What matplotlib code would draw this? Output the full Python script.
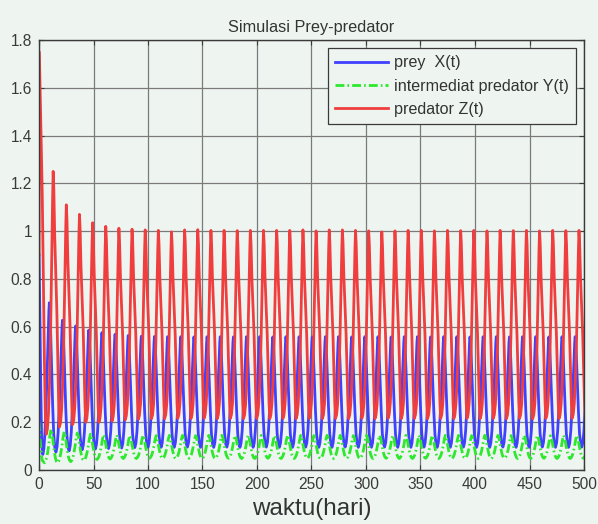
import numpy as np
from matplotlib import pyplot as plt
plt.rcParams['font.family'] = ['Liberation Sans', 'DejaVu Sans']

period = 12.06  # days between two successive peaks

# ---- prey X(t) ----
x_start_t = [0, 0.8, 1.6, 2.4]
x_start_v = [0.9, 0.65, 0.35, 0.13]
x_first_peak = 9.5
x_peaks = [0.70, 0.627, 0.603, 0.585, 0.575, 0.568, 0.563, 0.560, 0.559, 0.558,
           0.558, 0.557, 0.558, 0.558, 0.557, 0.558, 0.558, 0.557, 0.558, 0.558,
           0.557, 0.558, 0.558, 0.557, 0.558, 0.558, 0.557, 0.558, 0.558, 0.557,
           0.558, 0.558, 0.557, 0.558, 0.558, 0.557, 0.558, 0.558, 0.557, 0.558,
           0.558, 0.557]
x_troughs = [0.065, 0.075, 0.080, 0.085, 0.088, 0.090, 0.092, 0.094, 0.095, 0.095,
             0.095, 0.096, 0.095, 0.095, 0.096, 0.095, 0.095, 0.096, 0.095, 0.095,
             0.096, 0.095, 0.095, 0.096, 0.095, 0.095, 0.096, 0.095, 0.095, 0.096,
             0.095, 0.095, 0.096, 0.095, 0.095, 0.096, 0.095, 0.095, 0.096, 0.095,
             0.095, 0.096, 0.095]
x_off = [-6, -5, -4, -3, -2, -1, -0.4, 0, 0.5, 1.2, 2, 3, 4, 5]
x_norm = [0, 0.04, 0.15, 0.33, 0.55, 0.8, 0.95, 1.0, 0.95, 0.8, 0.58, 0.32, 0.12, 0.03]

# ---- intermediate predator Y(t) ----
y_start_t = [0, 1, 2, 3]
y_start_v = [0.2, 0.13, 0.07, 0.04]
y_first_peak = 11.0
y_peaks = [0.17, 0.16, 0.155, 0.150, 0.148, 0.146, 0.145, 0.145, 0.144, 0.145,
           0.145, 0.144, 0.145, 0.145, 0.144, 0.145, 0.145, 0.144, 0.145, 0.145,
           0.144, 0.145, 0.145, 0.144, 0.145, 0.145, 0.144, 0.145, 0.145, 0.144,
           0.145, 0.145, 0.144, 0.145, 0.145, 0.144, 0.145, 0.145, 0.144, 0.145,
           0.145, 0.144]
y_troughs = [0.030, 0.030, 0.035, 0.040, 0.044, 0.046, 0.048, 0.048, 0.049, 0.048,
             0.048, 0.049, 0.048, 0.048, 0.049, 0.048, 0.048, 0.049, 0.048, 0.048,
             0.049, 0.048, 0.048, 0.049, 0.048, 0.048, 0.049, 0.048, 0.048, 0.049,
             0.048, 0.048, 0.049, 0.048, 0.048, 0.049, 0.048, 0.048, 0.049, 0.048,
             0.048, 0.049, 0.048]
y_off = [-6, -5, -4, -3, -2, -1, 0, 1, 2, 3, 4, 5]
y_norm = [0, 0.05, 0.15, 0.32, 0.55, 0.82, 1.0, 0.88, 0.6, 0.35, 0.15, 0.04]

# ---- top predator Z(t) ----
z_start_t = [0, 0.3, 1, 2, 3, 4, 5, 5.8]
z_start_v = [0.9, 1.75, 1.6, 1.4, 1.15, 0.8, 0.45, 0.24]
z_first_peak = 13.0
z_peaks = [1.25, 1.11, 1.07, 1.035, 1.02, 1.012, 1.008, 1.005, 1.003, 0.997,
           1.005, 1.006, 1.003, 1.003, 1.002, 1.003, 1.003, 1.003, 1.003, 1.005,
           1.001, 1.005, 1.005, 1.003, 1.001, 0.997, 1.001, 1.003, 1.003, 1.001,
           1.003, 1.002, 1.003, 1.001, 1.003, 1.002, 1.003, 1.001, 1.003, 1.002,
           1.003, 1.002]
z_troughs = [0.15, 0.18, 0.19, 0.20, 0.20, 0.205, 0.21, 0.212, 0.215, 0.215,
             0.216, 0.215, 0.216, 0.215, 0.216, 0.215, 0.216, 0.215, 0.216, 0.215,
             0.216, 0.215, 0.216, 0.215, 0.216, 0.215, 0.216, 0.215, 0.216, 0.215,
             0.216, 0.215, 0.216, 0.215, 0.216, 0.215, 0.216, 0.215, 0.216, 0.215,
             0.216, 0.215, 0.216]
z_off = [-6.3, -5.3, -4.3, -3.3, -2.3, -1.3, -0.5, 0, 0.6, 1.4, 2.4, 3.4, 4.4, 5.1]
z_norm = [0, 0.02, 0.08, 0.2, 0.4, 0.68, 0.9, 1.0, 0.93, 0.75, 0.6, 0.45, 0.22, 0.08]


def series(start_t, start_v, first_peak, peaks, troughs, off, norm):
  t = list(start_t)
  v = list(start_v)
  for k, pk in enumerate(peaks):
    tp = first_peak + k*period
    for o, s in zip(off, norm):
      lo = troughs[k] if o <= 0 else troughs[k+1]
      t.append(tp + o)
      v.append(lo + s*(pk - lo))
  return np.array(t), np.array(v)


tx, X = series(x_start_t, x_start_v, x_first_peak, x_peaks, x_troughs, x_off, x_norm)
ty, Y = series(y_start_t, y_start_v, y_first_peak, y_peaks, y_troughs, y_off, y_norm)
tz, Z = series(z_start_t, z_start_v, z_first_peak, z_peaks, z_troughs, z_off, z_norm)

bg = '#eef5f1'
fig = plt.figure(figsize=(5.98, 5.24), dpi=100, facecolor=bg)
ax = fig.add_axes([39/598, 1 - 470/524, 545/598, 430/524], facecolor=bg)

ax.plot(tx, X, color='#4040ff', lw=2, label='prey  X(t)')
ax.plot(ty, Y, color='#2ee82e', lw=2, ls=(0, (3.2, 1.1, 0.6, 1.1)), label='intermediat predator Y(t)')
ax.plot(tz, Z, color='#f03e3e', lw=2, label='predator Z(t)')

ax.set_xlim(0, 500)
ax.set_ylim(0, 1.8)
ax.set_xticks(np.arange(0, 501, 50))
yt = np.arange(0, 1.81, 0.2)
ax.set_yticks(yt)
ax.set_yticklabels([f'{v:g}' for v in np.round(yt, 1)])
ax.grid(True, color='#7a7a7a', lw=0.9)
ax.set_axisbelow(True)
for s in ax.spines.values():
  s.set_color('#3a3a3a')
  s.set_linewidth(1.0)
ax.tick_params(direction='in', top=True, right=True, length=3.5, width=0.8,
               colors='#3a3a3a', labelsize=11.2, pad=5)

ax.set_title('Simulasi Prey-predator', fontsize=11.7, color='#333333', pad=6)
ax.set_xlabel('waktu(hari)', fontsize=17.5, color='#333333', labelpad=4)

leg = ax.legend(loc='upper right', fontsize=11.6, handlelength=3.3, fancybox=False,
                framealpha=1, facecolor=bg, edgecolor='#3a3a3a',
                borderaxespad=0.5, labelspacing=0.52, handletextpad=0.35, borderpad=0.45)
leg.get_frame().set_linewidth(0.9)
for txt in leg.get_texts():
  txt.set_color('#333333')

plt.savefig('out.png', dpi=100, facecolor=bg)
